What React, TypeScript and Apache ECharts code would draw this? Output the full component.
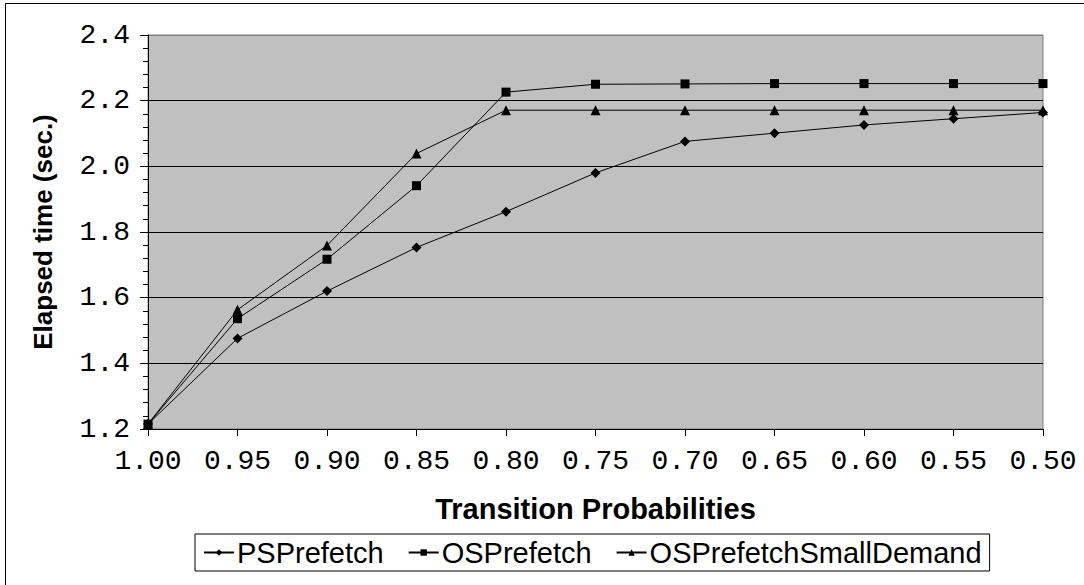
import React, { useEffect, useRef } from "react";
import * as echarts from "echarts";

const categories = ["1.00", "0.95", "0.90", "0.85", "0.80", "0.75", "0.70", "0.65", "0.60", "0.55", "0.50"];
const psPrefetch = [1.215, 1.476, 1.62, 1.753, 1.862, 1.98, 2.076, 2.101, 2.126, 2.145, 2.164];
const osPrefetch = [1.215, 1.536, 1.717, 1.941, 2.226, 2.25, 2.251, 2.252, 2.252, 2.252, 2.252];
const osPrefetchSmallDemand = [1.215, 1.563, 1.759, 2.039, 2.171, 2.171, 2.171, 2.171, 2.171, 2.171, 2.171];
const seriesNames = ["PSPrefetch", "OSPrefetch", "OSPrefetchSmallDemand"];

export default function App() {
  const ref = useRef<HTMLDivElement>(null);
  useEffect(() => {
    if (!ref.current) return;
    const chart = echarts.init(ref.current, null, { renderer: "svg" });
    const mono = "'Liberation Mono', 'Courier New', monospace";
    const sans = "'Liberation Sans', Arial, sans-serif";
    const mk = (name: string, data: number[], symbol: string, size: number) => ({
      name,
      type: "line",
      data,
      symbol,
      symbolSize: size,
      showSymbol: true,
      lineStyle: { color: "#000", width: 1 },
      itemStyle: { color: "#000" },
      z: 5,
    });
    chart.setOption({
      animation: false,
      backgroundColor: "#fff",
      graphic: [
        {
          type: "rect",
          shape: { x: 5.5, y: 3.5, width: 1100, height: 600 },
          style: { fill: "none", stroke: "#000", lineWidth: 1 },
          silent: true,
        },
      ],
      grid: {
        left: 148,
        right: 41,
        top: 35,
        bottom: 156,
        show: true,
        backgroundColor: "#c0c0c0",
        borderColor: "#808080",
        borderWidth: 1,
        containLabel: false,
        outerBoundsMode: "none",
      },
      legend: {
        data: seriesNames,
        left: 195,
        top: 534,
        orient: "horizontal",
        padding: [4, 8, 4, 8],
        itemGap: 24,
        itemWidth: 30,
        itemHeight: 8,
        borderColor: "#000",
        borderWidth: 1,
        textStyle: { fontFamily: sans, fontSize: 29, color: "#000", padding: [0, 0, 0, -2] },
      },
      xAxis: {
        type: "category",
        data: categories,
        boundaryGap: false,
        name: "Transition Probabilities",
        nameLocation: "middle",
        nameGap: 65,
        nameTextStyle: { fontFamily: sans, fontSize: 29, fontWeight: "bold", color: "#000" },
        axisLine: { lineStyle: { color: "#000", width: 1 } },
        axisTick: { show: true, alignWithLabel: true, length: 7, lineStyle: { color: "#000" } },
        axisLabel: { fontFamily: mono, fontSize: 28, color: "#000", margin: 18, interval: 0 },
        splitLine: { show: false },
      },
      yAxis: {
        type: "value",
        min: 1.2,
        max: 2.4,
        interval: 0.2,
        name: "Elapsed time (sec.)",
        nameLocation: "middle",
        nameGap: 92,
        nameRotate: 90,
        nameTextStyle: { fontFamily: sans, fontSize: 26, fontWeight: "bold", color: "#000" },
        axisLine: { show: true, lineStyle: { color: "#000", width: 1 } },
        axisTick: { show: true, length: 8, lineStyle: { color: "#000" } },
        minorTick: { show: true, splitNumber: 5, length: 5, lineStyle: { color: "#000" } },
        axisLabel: {
          fontFamily: mono,
          fontSize: 28,
          color: "#000",
          margin: 18,
          formatter: (v: number) => v.toFixed(1),
        },
        splitLine: {
          show: true,
          lineStyle: { color: ["#000", "#000", "#000", "#000", "#000", "#000", "#808080"], width: 1 },
        },
      },
      series: [
        mk(seriesNames[0], psPrefetch, "diamond", 10),
        mk(seriesNames[1], osPrefetch, "rect", 9),
        mk(seriesNames[2], osPrefetchSmallDemand, "triangle", 10),
      ],
    });
    return () => chart.dispose();
  }, []);
  return (
    <div
      ref={ref}
      style={{ position: "fixed", left: 0, top: 0, width: 1084, height: 585 }}
    />
  );
}
